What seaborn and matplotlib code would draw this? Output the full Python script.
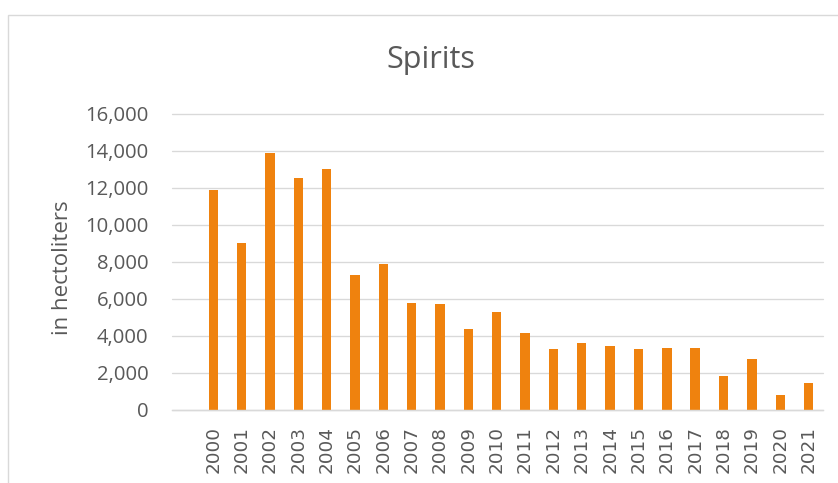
import matplotlib
matplotlib.use("Agg")
import matplotlib.pyplot as plt
from matplotlib.patches import Rectangle
from matplotlib.ticker import FuncFormatter
import seaborn as sns
import pandas as pd

years = [str(y) for y in range(2000, 2022)]
values = [11850, 9000, 13900, 12500, 13030, 7300, 7900, 5750, 5710, 4360, 5280,
          4130, 3290, 3580, 3430, 3290, 3320, 3320, 1810, 2750, 800, 1450]
title = "Spirits"
ylabel = "in hectoliters"
yticks = list(range(0, 16001, 2000))

df = pd.DataFrame({"year": years, "value": values})

sns.set_theme(style="white")
plt.rcParams["font.family"] = ["DejaVu Sans"]

W, H = 838, 483
fig = plt.figure(figsize=(W / 100, H / 100), dpi=100)
ax = fig.add_axes([172 / W, 1 - 409.7 / H, (822.7 - 172) / W, (409.7 - 113.7) / H])

sns.barplot(data=df, x="year", y="value", color="#EF820E", saturation=1,
            width=0.33, ax=ax, edgecolor="none")

ax.set_xlim(-1.46, 21.5)
ax.set_ylim(0, 16000)
ax.set_yticks(yticks)
ax.yaxis.set_major_formatter(FuncFormatter(lambda v, p: f"{int(v):,}"))
ax.set_axisbelow(True)
ax.yaxis.grid(True, color="#d9d9d9", lw=0.95)
for g in ax.yaxis.get_gridlines():
    g.set_clip_on(False)
for s in ["top", "right", "left"]:
    ax.spines[s].set_visible(False)
ax.spines["bottom"].set_color("#d9d9d9")
ax.spines["bottom"].set_linewidth(1.0)
ax.set_xlabel("")
ax.set_ylabel("")
ax.tick_params(axis="both", length=0)
ax.tick_params(axis="y", pad=17, labelcolor="#595959")
ax.tick_params(axis="x", pad=12, labelcolor="#595959")
for lab in ax.get_yticklabels():
    lab.set_fontfamily(["Open Sans", "DejaVu Sans"])
    lab.set_fontsize(14.6)
for lab in ax.get_xticklabels():
    lab.set_rotation(90)
    lab.set_fontsize(13.2)
    lab.set_va("top")
    lab.set_ha("center")

fig.text(430.5 / W, 1 - 68.3 / H, title, ha="center", va="baseline",
         fontsize=22, color="#595959", family=["Open Sans", "DejaVu Sans"])
fig.text(62 / W, 1 - 268 / H, ylabel, ha="center", va="center", rotation=90,
         fontsize=16, color="#595959", family=["Open Sans", "DejaVu Sans"])

fig.add_artist(Rectangle((7.5 / W, -0.5), 2, (1 - 14.5 / H) + 0.5,
                         transform=fig.transFigure, fill=False,
                         ec="#d9d9d9", lw=1.0))

fig.savefig("out.png", dpi=100)
